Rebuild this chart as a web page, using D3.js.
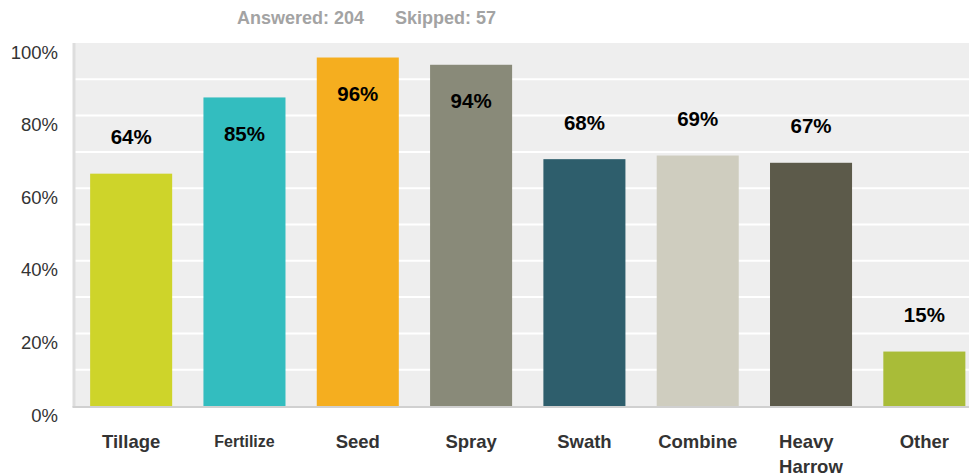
<!DOCTYPE html>
<html>
<head>
<meta charset="utf-8">
<script src="https://cdnjs.cloudflare.com/ajax/libs/d3/7.8.5/d3.min.js"></script>
<style>
  body { margin: 0; background: #fff; }
  svg text { font-family: "Liberation Sans", Arial, sans-serif; }
</style>
</head>
<body>
<svg id="chart" width="969" height="475"></svg>
<script>
// survey answers, percent of respondents
var categories = ["Tillage", "Fertilize", "Seed", "Spray", "Swath", "Combine", "Heavy Harrow", "Other"];
var values = [64, 85, 96, 94, 68, 69, 67, 15];
var colors = ["#ced42a", "#33bdbf", "#f5ae1f", "#898a79", "#2e5e6c", "#cfcdbf", "#5c5a4a", "#a9bc38"];
var yTicks = [0, 20, 40, 60, 80, 100];
var answered = 204, skipped = 57;

var svg = d3.select("#chart");
// plot box (window.top is taken, so own names)
var pLeft = 74.5, pRight = 981, pTop = 43, pBottom = 406;

var x = d3.scaleBand().domain(categories).range([pLeft, pRight])
    .paddingInner(0.276).paddingOuter(0.138);
var y = d3.scaleLinear().domain([0, 100]).range([pBottom, pTop]);

// header
var head = svg.append("g").attr("font-weight", "bold").attr("font-size", 18).attr("fill", "#a3a3a3");
head.append("text").attr("x", 237).attr("y", 24).text("Answered: " + answered);
head.append("text").attr("x", 395).attr("y", 24).text("Skipped: " + skipped);

// plot background
svg.append("rect").attr("x", pLeft - 1).attr("y", pTop)
    .attr("width", pRight - pLeft + 1).attr("height", pBottom - pTop)
    .style("fill", "#eeeeee");

// grid every 10%
svg.append("g").selectAll("line").data(d3.range(10, 100, 10)).join("line")
    .attr("x1", pLeft).attr("x2", pRight)
    .attr("y1", function(d) { return y(d); }).attr("y2", function(d) { return y(d); })
    .style("stroke", "#fff").style("stroke-width", 2);

// left border and bottom axis line
svg.append("line").attr("x1", pLeft - 0.5).attr("x2", pLeft - 0.5).attr("y1", pTop).attr("y2", pBottom + 1)
    .style("stroke", "#dddddd").style("stroke-width", 3);
svg.append("line").attr("x1", pLeft - 2).attr("x2", pRight).attr("y1", pBottom + 1).attr("y2", pBottom + 1)
    .style("stroke", "#d0d0d0").style("stroke-width", 2);

// y tick labels (sit a bit below their gridline)
svg.append("g").selectAll("text").data(yTicks).join("text")
    .attr("x", 58).attr("y", function(d) { return y(d) + 9; })
    .attr("text-anchor", "end").attr("dominant-baseline", "central")
    .attr("font-size", 18.5).attr("fill", "#333")
    .text(function(d) { return d + "%"; });

// bars
svg.append("g").selectAll("rect").data(values).join("rect")
    .attr("x", function(d, i) { return x(categories[i]); })
    .attr("y", function(d) { return y(d); })
    .attr("width", x.bandwidth())
    .attr("height", function(d) { return pBottom - y(d); })
    .style("fill", function(d, i) { return colors[i]; });

// value labels: above the bar, or inside when the bar is tall
svg.append("g").selectAll("text").data(values).join("text")
    .attr("x", function(d, i) { return x(categories[i]) + x.bandwidth() / 2; })
    .attr("y", function(d) { return d > 80 ? y(d) + 36 : y(d) - 37; })
    .attr("text-anchor", "middle").attr("dominant-baseline", "central")
    .attr("font-size", 20.5).attr("font-weight", "bold").attr("fill", "#000")
    .text(function(d) { return d + "%"; });

// category labels
var xl = svg.append("g").selectAll("text").data(categories).join("text")
    .attr("y", 441)
    .attr("dominant-baseline", "central")
    .attr("font-weight", "bold").attr("fill", "#333")
    .attr("font-size", function(d) { return d == "Fertilize" ? 16 : 18.5; });

xl.each(function(d) {
  var t = d3.select(this), cx = x(d) + x.bandwidth() / 2;
  var words = d.split(" ");
  if (words.length > 1) {
    t.attr("text-anchor", "start");
    words.forEach(function(w, k) {
      t.append("tspan").attr("x", cx - 32).attr("dy", k ? 25 : 0).text(w);
    });
  } else {
    t.attr("text-anchor", "middle").attr("x", cx).text(d);
  }
});
</script>
</body>
</html>
